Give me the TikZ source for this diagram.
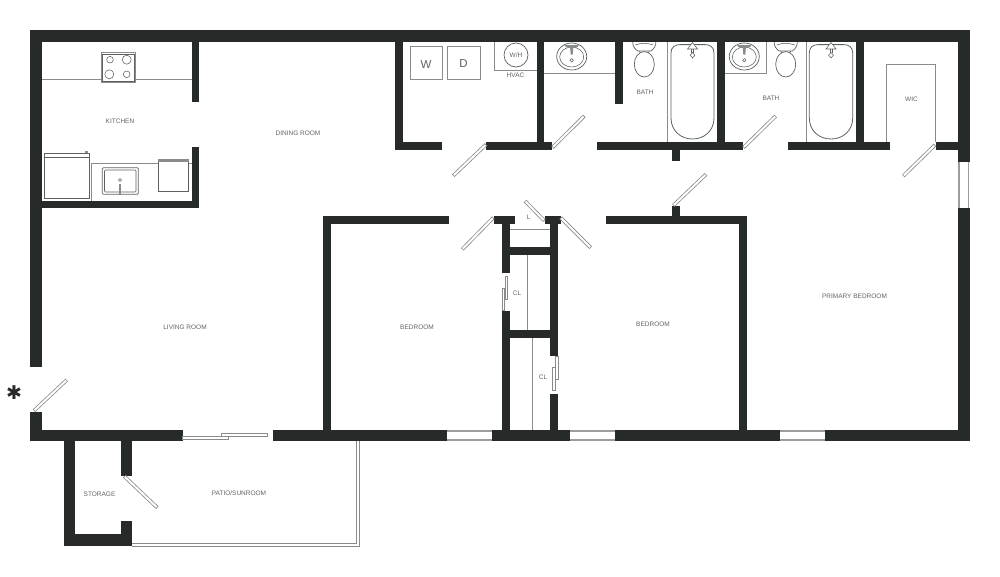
\documentclass[tikz,border=0pt]{standalone}
\usepackage{fontspec}
\setmainfont{Liberation Sans}
\newfontfamily\starfont{DejaVu Sans}
\definecolor{wallc}{HTML}{262B2A}
\definecolor{linec}{HTML}{8A8C8C}
\definecolor{darkline}{HTML}{5E6160}
\definecolor{labelc}{HTML}{626464}
\tikzset{
  wall/.style={fill=wallc,draw=none},
  fix/.style={draw=linec,line width=0.8pt,fill=none},
  fixfine/.style={draw=darkline,line width=0.55pt,fill=none},
  glassline/.style={draw=linec!85,line width=1.4pt},
  roomlabel/.style={text=labelc,font=\fontsize{6.5}{7}\selectfont,inner sep=0pt},
  applabel/.style={text=darkline,font=\fontsize{11.5}{12}\selectfont,inner sep=0pt},
}
\newcommand{\doorleaf}[2]{%
  \draw[linec,line width=3.6pt] #1 -- #2;
  \draw[white,line width=2.0pt,shorten >=0.8pt,shorten <=0.8pt] #1 -- #2;}
\newcommand{\sinkbasin}[2]{%
  \begin{scope}[shift={(#1,#2)}]
    \draw[fixfine,line width=0.7pt] (0,0) ellipse [x radius=15pt,y radius=13.5pt];
    \draw[fixfine] (0,0.5) ellipse [x radius=12pt,y radius=10pt];
    \fill[linec] (-7,-11.5) -- (7,-11.5) -- (6,-9.5) -- (1.6,-9) -- (1,-2) -- (-1,-2) -- (-1.6,-9) -- (-6,-9.5) -- cycle;
    \draw[fixfine] (0,3.8) circle [radius=1.7pt];
  \end{scope}}
\newcommand{\toiletfix}[1]{%
  \begin{scope}[shift={(#1,42)}]
    \draw[fixfine,line width=0.7pt] (-11.5,0) .. controls (-12,4) and (-9,7.5) .. (-6.5,9) -- (6.5,9) .. controls (9,7.5) and (12,4) .. (11.5,0);
    \draw[fixfine] (-9,3) .. controls (-3,0.8) and (3,0.8) .. (9,3);
    \draw[fixfine] (-5,9) -- (-4,11) (5,9) -- (4,11);
    \draw[fixfine,line width=0.7pt] (0,22.3) ellipse [x radius=10pt,y radius=12.7pt];
  \end{scope}}
\newcommand{\tubfix}[2]{%
  \draw[fixfine,line width=0.8pt] (#1,53) .. controls (#1,47) and (#1+4,44.6) .. (#1+9,44.6)
    -- (#2-9,44.6) .. controls (#2-4,44.6) and (#2,47) .. (#2,53)
    -- (#2,118) .. controls (#2,131) and (#2-10,139) .. ({(#1+#2)/2},139)
    .. controls (#1+10,139) and (#1,131) .. (#1,118) -- cycle;
  \begin{scope}[shift={({(#1+#2)/2},42)}]
    \fill[white] (-5,7) -- (0,0.5) -- (5,7) -- cycle;
    \draw[fixfine] (-5,7) -- (0,0.5) -- (5,7) -- cycle;
    \draw[fixfine] (-1,7) -- (-1,10.5) (1,7) -- (1,10.5);
    \draw[fixfine] (0,10.5) -- (2.4,13.2) -- (0,15.9) -- (-2.4,13.2) -- cycle;
  \end{scope}}
\begin{document}
\begin{tikzpicture}[x=1pt,y=-1pt]
\useasboundingbox (0,0) rectangle (1000,576);
\fill[white] (0,0) rectangle (1000,576);
% ---------- fixtures: kitchen
\draw[fix] (42,79.5) -- (192,79.5);
\draw[fix,fill=white] (101,52.5) rectangle (135.7,82.3);
\draw[fixfine] (102.5,54) rectangle (134.2,80.8);
\draw[fixfine] (110,59.7) circle [radius=3.3pt] (126.7,59.7) circle [radius=4.5pt]
  (109.3,74.3) circle [radius=4.5pt] (126.7,74.3) circle [radius=3.3pt];
\draw[fixfine,line width=0.7pt] (44.3,153.3) rectangle (89,198.3);
\draw[fixfine] (44.3,157.5) -- (89,157.5);
\fill[linec] (85,150.5) rectangle (87.5,153.3);
\draw[fix] (192,163.3) -- (91,163.3) -- (91,201);
\draw[fixfine,line width=0.7pt,rounded corners=1pt] (102.3,167.7) rectangle (138.3,194.3);
\draw[fixfine,rounded corners=1pt] (104.5,170) rectangle (136,192);
\draw[fixfine] (120,180) circle [radius=1.5pt];
\fill[linec] (118.8,184) rectangle (121.2,195);
\draw[fixfine,line width=0.7pt,fill=white] (158.3,160) rectangle (188.3,191.7);
\fill[linec] (158,159) rectangle (188.8,162.3);
% ---------- fixtures: laundry and baths
\draw[fix] (410,46.7) rectangle (442.7,79.3);
\draw[fix] (447.3,46.7) rectangle (480.7,79.3);
\draw[fix] (494.7,42) -- (494.7,70) -- (537,70);
\draw[fixfine,line width=0.7pt] (516,55) circle [radius=12pt];
\draw[fix] (544,73.7) -- (615.5,73.7);
\draw[fix] (667.3,42) -- (667.3,142);
\sinkbasin{571.7}{56.5}
\toiletfix{644.3}
\tubfix{671}{714}
\sinkbasin{744.3}{56.5}
\draw[fix] (725,73.7) -- (766.3,73.7) -- (766.3,42);
\toiletfix{785.7}
\draw[fix] (806,42) -- (806,142);
\tubfix{809.3}{852.7}
\draw[fix] (886.7,142) -- (886.7,64.3) -- (935.7,64.3) -- (935.7,142);
% ---------- fixtures: closets
\draw[fix] (510,229.7) -- (550,229.7);
\draw[fix] (527.3,255) -- (527.3,330);
\draw[fix] (532.7,338) -- (532.7,430);
% ---------- windows
\draw[glassline] (959,162) -- (959,208) (968.3,162) -- (968.3,208);
\draw[glassline] (447,430.8) -- (493,430.8) (447,440) -- (493,440);
\draw[glassline] (570,430.8) -- (615,430.8) (570,440) -- (615,440);
\draw[glassline] (780,430.8) -- (825,430.8) (780,440) -- (825,440);
% ---------- patio enclosure
\draw[fix] (132,546) -- (359,546) -- (359,441);
\draw[fix] (132,543) -- (356.5,543) -- (356.5,441);
% ---------- walls
\fill[wall] (30,30) rectangle (970,42);
\fill[wall] (30,30) rectangle (42,367);
\fill[wall] (30,411.7) rectangle (42,441);
\fill[wall] (30,429.5) rectangle (182.7,441);
\fill[wall] (273,429.5) rectangle (447.3,441);
\fill[wall] (492.3,429.5) rectangle (570,441);
\fill[wall] (615,429.5) rectangle (780,441);
\fill[wall] (825,429.5) rectangle (970,441);
\fill[wall] (958.3,30) rectangle (970,162.3);
\fill[wall] (958.3,207.7) rectangle (970,441);
\fill[wall] (191.7,42) rectangle (199.3,101.7);
\fill[wall] (191.7,147.3) rectangle (199.3,208.3);
\fill[wall] (42,201) rectangle (199.3,208.3);
\fill[wall] (394.7,42) rectangle (402.7,150);
\fill[wall] (394.7,142) rectangle (441.7,150);
\fill[wall] (486,142) rectangle (552.3,150);
\fill[wall] (536.7,42) rectangle (544.3,142);
\fill[wall] (615.3,42) rectangle (623.3,104.3);
\fill[wall] (597.3,142) rectangle (743.3,150);
\fill[wall] (671.7,150) rectangle (679.7,160.7);
\fill[wall] (717.3,42) rectangle (725,142);
\fill[wall] (856,42) rectangle (864,142);
\fill[wall] (788.3,142) rectangle (890.3,150);
\fill[wall] (935.7,142) rectangle (958.3,150);
\fill[wall] (323.3,216) rectangle (449.3,223.7);
\fill[wall] (323.3,216) rectangle (331,430);
\fill[wall] (494,216) rectangle (515.3,223.7);
\fill[wall] (545,216) rectangle (560.7,223.7);
\fill[wall] (502.3,216) rectangle (510,272.7);
\fill[wall] (502.3,310.7) rectangle (510,430);
\fill[wall] (550,216) rectangle (558,355.7);
\fill[wall] (550,394) rectangle (558,430);
\fill[wall] (510,247.3) rectangle (550,255);
\fill[wall] (510,330) rectangle (550,337.7);
\fill[wall] (606,216) rectangle (747.3,223.5);
\fill[wall] (671.7,206) rectangle (679.7,216);
\fill[wall] (739.3,216) rectangle (747.3,430);
\fill[wall] (63.7,441) rectangle (75.3,546);
\fill[wall] (63.7,534) rectangle (132.3,546);
\fill[wall] (120.7,520.7) rectangle (132.3,546);
\fill[wall] (120.7,441) rectangle (132.3,475.7);
% ---------- swing doors
\doorleaf{(486,144.5)}{(453.3,175.7)}
\doorleaf{(552.5,147.5)}{(584.3,116)}
\doorleaf{(743.5,147.5)}{(775.7,116)}
\doorleaf{(935,145)}{(903.3,176)}
\doorleaf{(673.3,205.5)}{(706,174.3)}
\doorleaf{(493.3,217.7)}{(462.3,249.3)}
\doorleaf{(544.3,220.7)}{(525,201)}
\doorleaf{(560.7,217.7)}{(590.7,247.7)}
\doorleaf{(34,410.7)}{(66.7,380)}
\doorleaf{(124.3,476.3)}{(157.3,507.7)}
% ---------- sliding doors
\draw[fix,fill=white,line width=0.7pt] (505,276.7) rectangle (507.7,299);
\draw[fix,fill=white,line width=0.7pt] (502,288) rectangle (504.7,310);
\draw[fix,fill=white,line width=0.7pt] (555.3,356) rectangle (558,379.3);
\draw[fix,fill=white,line width=0.7pt] (552.3,367.7) rectangle (555,390);
\draw[fix,fill=white,line width=0.7pt] (182.7,436) rectangle (228,439);
\draw[fix,fill=white,line width=0.7pt] (221.3,433.3) rectangle (267.3,436.7);
% ---------- labels
\node[roomlabel] (kitchen) at (120,121.2) {KITCHEN};
\node[roomlabel] (dining) at (298,133.2) {DINING ROOM};
\node[roomlabel] (living) at (185,326.8) {LIVING ROOM};
\node[roomlabel] (bedroomA) at (417,326.8) {BEDROOM};
\node[roomlabel] (bedroomB) at (653,323.8) {BEDROOM};
\node[roomlabel] (primary) at (854.5,295.8) {PRIMARY BEDROOM};
\node[roomlabel] (storage) at (99.5,494) {STORAGE};
\node[roomlabel] (patio) at (239,492.7) {PATIO/SUNROOM};
\node[roomlabel] (bathA) at (645,92.7) {BATH};
\node[roomlabel] (bathB) at (771,98) {BATH};
\node[roomlabel] (wic) at (911.5,99.5) {WIC};
\node[roomlabel] (hvac) at (515.5,75.5) {HVAC};
\node[roomlabel] (wh) at (516,55) {W/H};
\node[roomlabel] (closetL) at (528.7,217) {L};
\node[roomlabel] (closetA) at (517,293.5) {CL};
\node[roomlabel] (closetB) at (543,377.5) {CL};
\node[applabel] (washer) at (426,64.5) {W};
\node[applabel] (dryer) at (463.5,64) {D};
\node[text=wallc,font=\starfont\fontsize{19}{20}\selectfont,inner sep=0pt] (star) at (14,393) {✱};
\end{tikzpicture}
\end{document}
